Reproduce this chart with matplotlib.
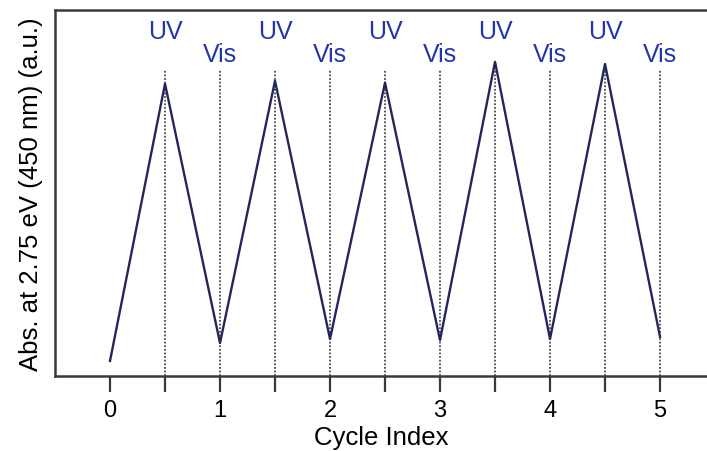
import matplotlib.pyplot as plt
import matplotlib.transforms as mtransforms

plt.rcParams["font.family"] = ["Liberation Sans", "DejaVu Sans"]

# absorbance after each half-step of switching (arbitrary units)
cycle_pos = [0, 0.5, 1, 1.5, 2, 2.5, 3, 3.5, 4, 4.5, 5]
absorbance = [0.041, 0.798, 0.090, 0.806, 0.101, 0.801, 0.098, 0.858, 0.101, 0.852, 0.107]
step_labels = ["UV", "Vis", "UV", "Vis", "UV", "Vis", "UV", "Vis", "UV", "Vis"]
tick_values = [0, 1, 2, 3, 4, 5]

spine_col = "#3a3a3a"
line_col = "#25255e"
label_col = "#2236a8"

fig = plt.figure(figsize=(7.07, 4.52), dpi=100)
ax = fig.add_axes([0.0778, 0.166, 0.9222, 0.81])

# dotted markers at each irradiation step
for x in cycle_pos[1:]:
    ax.axvline(x, ymin=0, ymax=0.839, color="#4a4a4a", lw=1.3,
               linestyle=(0, (1, 1)), zorder=1)

ax.plot(cycle_pos, absorbance, color=line_col, lw=1.7, zorder=2)

trans = mtransforms.blended_transform_factory(ax.transData, ax.transAxes)
for x, lab in zip(cycle_pos[1:], step_labels):
    y = 0.943 if lab == "UV" else 0.880
    ax.text(x, y, lab, transform=trans, ha="center", va="center",
            fontsize=18, color=label_col)

ax.set_xlim(-0.5, 5.427)
ax.set_ylim(0, 1)
ax.set_xticks(tick_values)
ax.set_xticks([v + 0.5 for v in tick_values[:-1]], minor=True)
ax.set_yticks([])
ax.tick_params(axis="x", which="both", direction="out", length=11.5,
               width=1.6, color=spine_col, labelsize=17, pad=5)
ax.set_xlabel("Cycle Index", fontsize=18.5, labelpad=3)
ax.set_ylabel("Abs. at 2.75 eV (450 nm) (a.u.)", fontsize=18.5, labelpad=9)

for side in ("left", "bottom", "top"):
    ax.spines[side].set_color(spine_col)
    ax.spines[side].set_linewidth(1.8)
ax.spines["right"].set_visible(False)

fig.savefig("out.png", dpi=100)
